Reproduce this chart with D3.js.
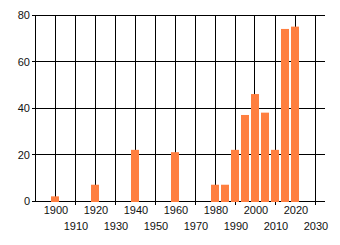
<!DOCTYPE html>
<html>
<head>
<meta charset="utf-8">
<script src="https://cdn.jsdelivr.net/npm/d3@7"></script>
<style>
  body { margin: 0; background: #fff; }
  text { font-family: "Liberation Sans", Arial, sans-serif; font-size: 11px; fill: #111; }
</style>
</head>
<body>
<svg id="chart" width="340" height="245"></svg>
<script>
// Bar data
const years  = [1900, 1920, 1940, 1960, 1980, 1985, 1990, 1995, 2000, 2005, 2010, 2015, 2020];
const counts = [2, 7, 22, 21, 7, 7, 22, 37, 46, 38, 22, 74, 75];

// Axis ticks
const xTicks = [1900, 1910, 1920, 1930, 1940, 1950, 1960, 1970, 1980, 1990, 2000, 2010, 2020, 2030];
const yTicks = [0, 20, 40, 60, 80];

const svg = d3.select("#chart");

const x = d3.scaleLinear().domain([1890, 2035]).range([35, 325]);
const y = d3.scaleLinear().domain([0, 80]).range([201, 15]);

const px = v => Math.floor(v) + 0.5;

// Horizontal gridlines (with small tick stub to the left)
svg.append("g").selectAll("line")
    .data(yTicks)
    .enter().append("line")
    .attr("x1", 32).attr("x2", x(2035))
    .attr("y1", d => px(y(d))).attr("y2", d => px(y(d)))
    .attr("stroke", "#000");

// Vertical gridlines; every second one gets a longer tick for the lower label row
svg.append("g").selectAll("line")
    .data(xTicks)
    .enter().append("line")
    .attr("x1", d => px(x(d))).attr("x2", d => px(x(d)))
    .attr("y1", y(80))
    .attr("y2", (d, i) => i % 2 ? y(0) + 4 : y(0) + 1)
    .attr("stroke", "#000");

// Left axis line
svg.append("line")
    .attr("x1", px(x(1890))).attr("x2", px(x(1890)))
    .attr("y1", y(80)).attr("y2", y(0) + 1)
    .attr("stroke", "#000");

// Bars, 4 years wide, centred on the year
svg.append("g").selectAll("rect")
    .data(years.map((yr, i) => ({ yr, v: counts[i] })))
    .enter().append("rect")
    .attr("x", d => x(d.yr - 2))
    .attr("width", d => x(d.yr + 2) - x(d.yr - 2))
    .attr("y", d => y(d.v))
    .attr("height", d => y(0) - y(d.v) + 1)
    .attr("fill", "#ff7f40");

// Y labels
svg.append("g").selectAll("text")
    .data(yTicks)
    .enter().append("text")
    .attr("x", 30)
    .attr("y", d => y(d) + 4)
    .attr("text-anchor", "end")
    .text(d => d);

// X labels in two staggered rows
svg.append("g").selectAll("text")
    .data(xTicks)
    .enter().append("text")
    .attr("x", d => x(d) + 1)
    .attr("y", (d, i) => i % 2 ? 230 : 214)
    .attr("text-anchor", "middle")
    .text(d => d);
</script>
</body>
</html>
